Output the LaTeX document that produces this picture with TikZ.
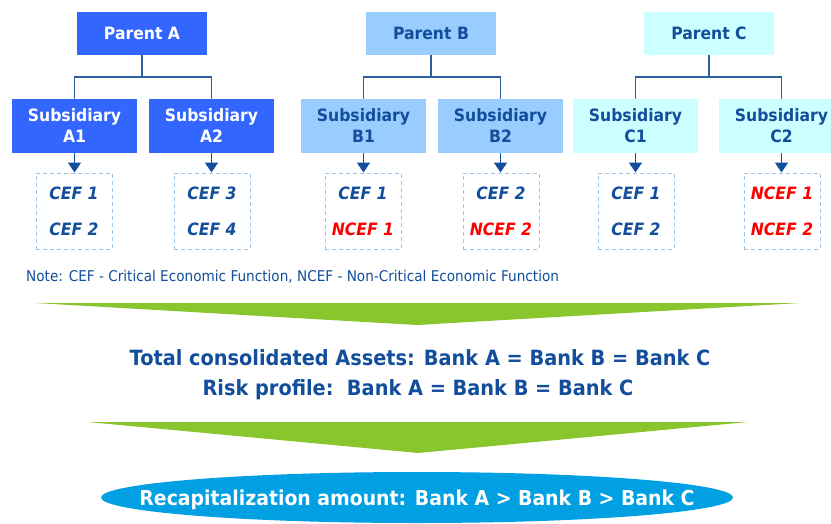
\documentclass[tikz,border=0pt]{standalone}
\usepackage{fontspec}
\usetikzlibrary{arrows.meta,shapes.geometric}
\newfontfamily\tah[FakeStretch=0.92]{DejaVu Sans}
\definecolor{royal}{RGB}{51,102,255}
\definecolor{skyb}{RGB}{153,204,255}
\definecolor{paleb}{RGB}{204,255,255}
\definecolor{navy}{RGB}{18,78,156}
\definecolor{linkc}{RGB}{46,95,160}
\definecolor{dashc}{RGB}{157,195,230}
\definecolor{leaf}{RGB}{137,197,45}
\definecolor{cyanb}{RGB}{0,160,227}
\definecolor{redt}{RGB}{255,0,0}
\begin{document}
\begin{tikzpicture}[x=1pt,y=-1pt,
  parentbox/.style={minimum width=130pt,minimum height=43pt,inner sep=0pt,
    font={\tah\bfseries\fontsize{17}{21}\selectfont}},
  subbox/.style={minimum width=125pt,minimum height=54pt,inner sep=0pt,align=center,
    font={\tah\bfseries\fontsize{17}{21}\selectfont}},
  fnbox/.style={draw=dashc,dash pattern=on 4pt off 3pt,line width=1pt,
    minimum width=76pt,minimum height=76pt,inner sep=0pt,align=center,
    font={\tah\bfseries\itshape\fontsize{17}{36}\selectfont},text=navy},
  styA/.style={fill=royal,text=white},
  styB/.style={fill=skyb,text=navy},
  styC/.style={fill=paleb,text=navy},
  link/.style={draw=linkc,line width=1.6pt},
  down/.style={draw=navy,line width=1.8pt,-{Triangle[width=13pt,length=10pt]}},
  midtext/.style={anchor=base,inner sep=0pt,text=navy,font={\tah\bfseries\fontsize{21}{25}\selectfont}}
]
\useasboundingbox (0,0) rectangle (831,523);

% parents
\node[parentbox,styA] (pA) at (142,33.5) {Parent A};
\node[parentbox,styB] (pB) at (431,33.5) {Parent B};
\node[parentbox,styC] (pC) at (709,33.5) {Parent C};

% subsidiaries
\node[subbox,styA] (sA1) at (74.5,126) {Subsidiary\\A1};
\node[subbox,styA] (sA2) at (211.5,126) {Subsidiary\\A2};
\node[subbox,styB] (sB1) at (363.5,126) {Subsidiary\\B1};
\node[subbox,styB] (sB2) at (500.5,126) {Subsidiary\\B2};
\node[subbox,styC] (sC1) at (635.5,126) {Subsidiary\\C1};
\node[subbox,styC] (sC2) at (781.5,126) {Subsidiary\\C2};

% tree connectors
\foreach \p/\l/\r in {pA/sA1/sA2,pB/sB1/sB2,pC/sC1/sC2}{
  \draw[link] (\p.south) -- ++(0,21.5) coordinate (j\p);
  \draw[link] (\l.north) |- (j\p) -| (\r.north);
}

% function boxes
\node[fnbox] (fA1) at (74,211) {CEF 1\\CEF 2};
\node[fnbox] (fA2) at (212,211) {CEF 3\\CEF 4};
\node[fnbox] (fB1) at (363,211) {CEF 1\\\textcolor{redt}{NCEF 1}};
\node[fnbox] (fB2) at (501,211) {CEF 2\\\textcolor{redt}{NCEF 2}};
\node[fnbox] (fC1) at (636,211) {CEF 1\\CEF 2};
\node[fnbox] (fC2) at (782,211) {\textcolor{redt}{NCEF 1}\\\textcolor{redt}{NCEF 2}};

\foreach \s/\f in {sA1/fA1,sA2/fA2,sB1/fB1,sB2/fB2,sC1/fC1,sC2/fC2}{
  \draw[down] (\s.south) -- (\s.south |- \f.north);
}

% note
\node[anchor=base west,inner sep=0pt,text=navy,font={\tah\fontsize{14.8}{17}\selectfont}]
  (note) at (26,281) {Note: CEF - Critical Economic Function, NCEF - Non-Critical Economic Function};

% green arrows
\fill[leaf] (35,303) -- (800,303) -- (417,325) -- cycle;
\fill[leaf] (88,422) -- (748,422) -- (418,453) -- cycle;

% middle texts
\node[midtext] (t1) at (420,365) {Total consolidated Assets: Bank A = Bank B = Bank C};
\node[midtext] (t2) at (418,395) {Risk profile:\ \ Bank A = Bank B = Bank C};

% ellipse
\node[ellipse,fill=cyanb,minimum width=632pt,minimum height=51pt,inner sep=0pt] (rec) at (417,497.5) {};
\node[inner sep=0pt,text=white,text depth=0pt,font={\tah\bfseries\fontsize{20.5}{24}\selectfont}]
  (rect) at (rec.center) {Recapitalization amount: Bank A > Bank B > Bank C};
\end{tikzpicture}
\end{document}
